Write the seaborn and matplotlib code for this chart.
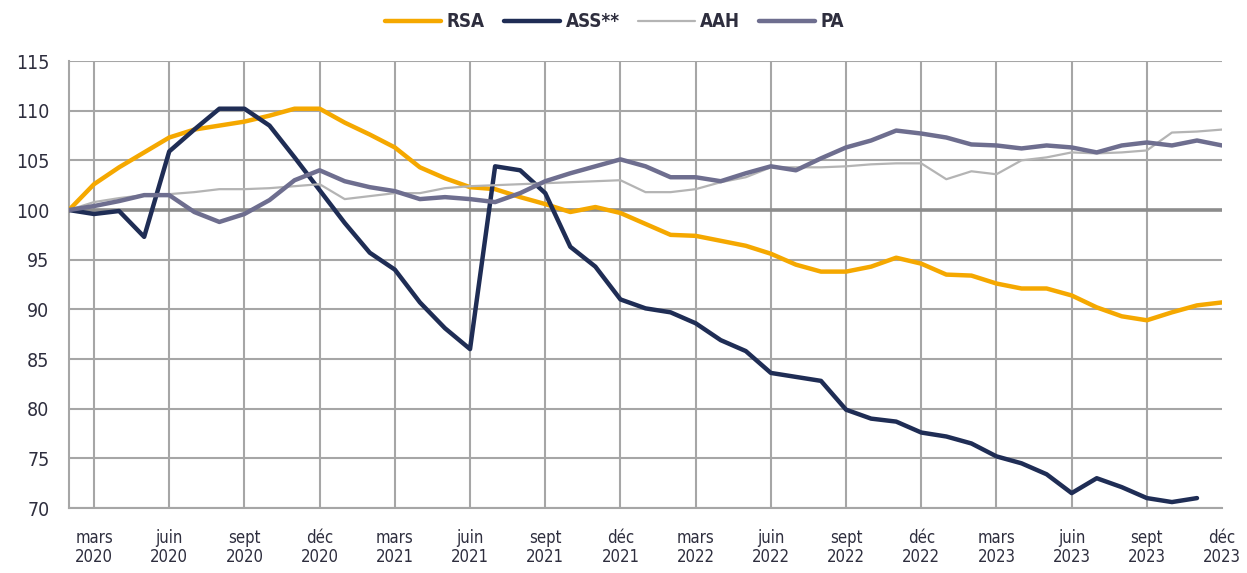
import pandas as pd
import seaborn as sns
import matplotlib.pyplot as plt
from matplotlib import font_manager

# Données mensuelles, indice 100 = février 2020 (47 mois jusqu'à déc. 2023)
mois = list(range(47))

rsa = [100.0, 102.6, 104.3, 105.8, 107.3, 108.1, 108.5, 108.9, 109.5, 110.2,
       110.2, 108.8, 107.6, 106.3, 104.3, 103.2, 102.3, 102.1, 101.3, 100.6,
       99.8, 100.3, 99.7, 98.6, 97.5, 97.4, 96.9, 96.4, 95.6, 94.5,
       93.8, 93.8, 94.3, 95.2, 94.6, 93.5, 93.4, 92.6, 92.1, 92.1,
       91.4, 90.2, 89.3, 88.9, 89.7, 90.4, 90.7]

ass = [100.0, 99.6, 99.9, 97.3, 105.9, 108.1, 110.2, 110.2, 108.5, 105.3,
       102.0, 98.7, 95.7, 94.0, 90.7, 88.1, 86.0, 104.4, 104.0, 101.7,
       96.3, 94.3, 91.0, 90.1, 89.7, 88.6, 86.9, 85.8, 83.6, 83.2,
       82.8, 79.9, 79.0, 78.7, 77.6, 77.2, 76.5, 75.2, 74.5, 73.4,
       71.5, 73.0, 72.1, 71.0, 70.6, 71.0, None]

aah = [100.0, 100.8, 101.2, 101.5, 101.6, 101.8, 102.1, 102.1, 102.2, 102.4,
       102.6, 101.1, 101.4, 101.7, 101.7, 102.2, 102.4, 102.5, 102.6, 102.7,
       102.8, 102.9, 103.0, 101.8, 101.8, 102.1, 102.8, 103.3, 104.3, 104.3,
       104.3, 104.4, 104.6, 104.7, 104.7, 103.1, 103.9, 103.6, 105.0, 105.3,
       105.8, 105.7, 105.8, 106.0, 107.8, 107.9, 108.1]

pa = [100.0, 100.4, 100.9, 101.5, 101.5, 99.8, 98.8, 99.6, 101.0, 103.0,
      104.0, 102.9, 102.3, 101.9, 101.1, 101.3, 101.1, 100.8, 101.7, 102.9,
      103.7, 104.4, 105.1, 104.4, 103.3, 103.3, 102.9, 103.7, 104.4, 104.0,
      105.2, 106.3, 107.0, 108.0, 107.7, 107.3, 106.6, 106.5, 106.2, 106.5,
      106.3, 105.8, 106.5, 106.8, 106.5, 107.0, 106.5]

series = ['RSA', 'ASS**', 'AAH', 'PA']
couleurs = ['#F5A800', '#1F2D55', '#B4B4B4', '#6E6E8F']
epaisseurs = [3.2, 3.2, 1.6, 3.2]

tick_pos = list(range(1, 47, 3))
tick_mois = ['mars', 'juin', 'sept', 'déc']
tick_labels = [f"{tick_mois[k % 4]}\n{2020 + k // 4}" for k in range(len(tick_pos))]

# Police étroite si disponible
dispo = {f.name for f in font_manager.fontManager.ttflist}
police = 'Liberation Sans Narrow' if 'Liberation Sans Narrow' in dispo else 'DejaVu Sans'

sns.set_theme(style='white')
plt.rcParams['font.family'] = [police, 'DejaVu Sans']
plt.rcParams['font.stretch'] = 'condensed'

# Format long pour seaborn
df = pd.DataFrame({'mois': mois, 'RSA': rsa, 'ASS**': ass, 'AAH': aah, 'PA': pa})
df_long = df.melt(id_vars='mois', var_name='serie', value_name='indice').dropna()

fig = plt.figure(figsize=(12.47, 5.73), dpi=100)
ax = fig.add_axes([0.0553, 0.1134, 0.9247, 0.7801])

ax.axhline(100, color='#8C8C8C', lw=2.6, zorder=1.5)

sns.lineplot(
    data=df_long, x='mois', y='indice',
    hue='serie', hue_order=series, palette=dict(zip(series, couleurs)),
    size='serie', size_order=series, sizes=dict(zip(series, epaisseurs)),
    legend=False, ax=ax, zorder=3
)

ax.set_xlim(0, 46)
ax.set_ylim(70, 115)
ax.set_yticks(range(70, 116, 5))
ax.set_xticks(tick_pos)
ax.set_xticklabels(tick_labels)
ax.set_xlabel('')
ax.set_ylabel('')

ax.grid(True, color='#A6A6A6', lw=1.5)
ax.get_xgridlines()[-1].set_visible(False)
ax.set_axisbelow(True)

for cote in ['top', 'right']:
    ax.spines[cote].set_visible(False)
for cote in ['left', 'bottom']:
    ax.spines[cote].set_color('#A6A6A6')
    ax.spines[cote].set_linewidth(1.5)

ax.tick_params(axis='x', direction='out', length=12, width=1.5, color='#A6A6A6',
               labelsize=12, labelcolor='#2E2E3E', pad=3)
ax.tick_params(axis='y', direction='out', length=6, width=1.5, color='#A6A6A6',
               labelsize=14, labelcolor='#2E2E3E', pad=8)
for lab in ax.get_xticklabels():
    lab.set_linespacing(1.05)

# Légende en haut
handles = ax.get_lines()[1:5]
fig.legend(handles, series, loc='center', bbox_to_anchor=(0.493, 0.962), ncol=4,
           frameon=False, fontsize=13.5, handlelength=3.0, columnspacing=1.0,
           handletextpad=0.3, labelcolor='#2E2E3E',
           prop={'size': 13.5, 'weight': 'semibold'})

fig.savefig('out.png', dpi=100)
